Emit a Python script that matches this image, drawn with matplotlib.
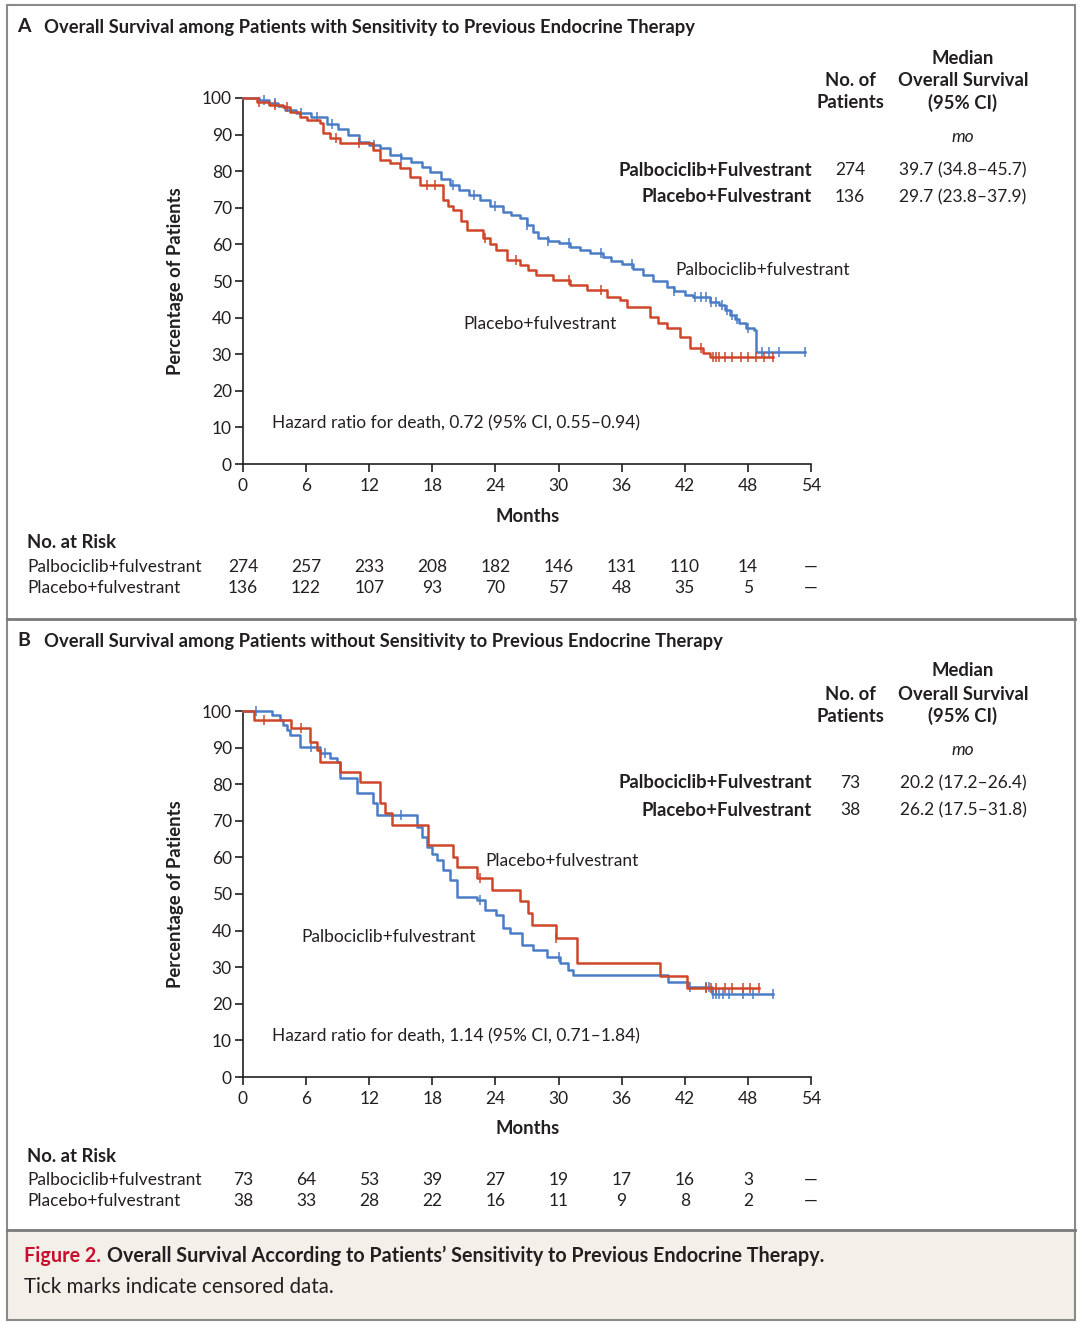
import matplotlib
matplotlib.use("Agg")
import matplotlib.pyplot as plt
from matplotlib.patches import Rectangle
from matplotlib.transforms import blended_transform_factory

plt.rcParams["font.family"] = ["Lato", "DejaVu Sans"]

W, H = 1080, 1323
BLUE = "#4a7dc6"
RED = "#cf472b"
TXT = "#231f20"

# ---- data ----
month_ticks = [0, 6, 12, 18, 24, 30, 36, 42, 48, 54]
pct_ticks = [0, 10, 20, 30, 40, 50, 60, 70, 80, 90, 100]

# panel A (sensitive)
a_palbo_t = [0, 1.5, 2.5, 3.3, 4, 5, 6.5, 8, 9, 10, 11, 12, 13, 14, 15, 16, 17, 17.8, 18.8,
             19.7, 20.5, 21.5, 22.5, 23.5, 24.7, 25.5, 26.3, 27, 27.6, 28, 29, 30, 31.1, 32,
             33, 34.2, 35, 36, 37.1, 38, 39, 40.3, 41, 42, 42.8, 44.4, 45.3, 45.8, 46.3, 46.8,
             47.2, 47.8, 48.6, 48.8, 53.4]
a_palbo_s = [100, 99.5, 98.6, 97.8, 96.7, 95.8, 94.8, 93, 91.5, 89.9, 88, 87.2, 86.3, 84.5,
             83.6, 82.5, 81.2, 79.8, 78, 76.2, 75, 73.5, 72.1, 70.5, 68.9, 68, 67.2, 65.3, 63.4,
             61.7, 61, 60.3, 59.3, 58.5, 57.6, 56.6, 55.5, 54.6, 53.2, 51.6, 50, 48.4, 47.3,
             46.2, 45.6, 44.3, 43.4, 42, 40.7, 39.5, 38.5, 37.2, 36.6, 30.6, 30.6]
a_palbo_cens = [2, 3, 5.5, 7, 8.5, 12.5, 15, 20, 22, 24, 27, 29, 31, 34, 37, 41, 43, 43.5, 44,
                44.5, 45, 45.5, 46, 46.5, 47, 48, 49.3, 50, 51, 53.4]
a_plac_t = [0, 1.3, 2.5, 3.8, 4.5, 5.4, 6.1, 7.3, 7.6, 8.3, 9.2, 12.4, 13, 14, 14.9, 15.9,
            16.8, 19, 19.5, 20, 20.7, 21.3, 22.8, 23.5, 24.1, 25.1, 26.3, 27.1, 27.9, 29.5,
            31.1, 32.7, 34.6, 35.8, 36.5, 38.7, 39.5, 40.3, 41.5, 42.5, 43.7, 44.4, 50.4]
a_plac_s = [100, 99, 98.1, 97.5, 96.2, 94.8, 94, 93.2, 90.4, 89.1, 87.7, 85.8, 83, 82.2, 80.9,
            78.4, 76.2, 72.1, 70.5, 69.4, 66.5, 63.9, 61.7, 60, 58.5, 55.7, 54.4, 53, 51.6,
            50.3, 48.9, 47.5, 45.6, 44.8, 42.9, 40.2, 38.5, 37.2, 34.7, 31.7, 30.3, 29.2, 29.2]
a_plac_cens = [1.5, 3, 4.2, 8.8, 11, 17.5, 18.3, 23, 26, 31, 34, 43.5, 44.7, 45, 45.3, 45.8,
               46.5, 47.3, 48, 48.8, 49.5, 50.4]

# panel B (not sensitive)
b_palbo_t = [0, 2.8, 3.5, 3.8, 4.2, 4.5, 5.4, 7.3, 8.3, 8.9, 9.2, 10.8, 12.4, 12.7, 16.5, 17,
             17.5, 18, 18.4, 19, 19.7, 20.3, 22.2, 23, 24.1, 24.7, 25.4, 26.5, 27.6, 28.9,
             30.1, 30.9, 31.4, 40.4, 42.3, 44.6, 50.4]
b_palbo_s = [100, 98.9, 97.5, 96.2, 94.8, 93.4, 90.2, 88.5, 87.2, 86.1, 81.7, 77.6, 74.9,
             71.6, 68.3, 65.5, 62.8, 61, 59.3, 56.6, 53.8, 49.2, 48.4, 45.6, 44.3, 40.7, 39.3,
             36.1, 34.7, 32.8, 31.1, 29.2, 27.9, 26, 24.6, 22.7, 22.7]
b_palbo_cens = [1.2, 6.5, 7.8, 15, 22.5, 30, 42.5, 44, 44.3, 44.7, 45, 45.3, 45.6, 46.2, 47.5,
                48.5, 50.4]
b_plac_t = [0, 1, 4.6, 6.4, 7, 7.3, 9.2, 11.1, 13, 13.5, 14.2, 17.6, 20, 20.3, 22.2, 23.7,
            26.3, 27.1, 27.5, 29.8, 31.8, 39.6, 42.2, 49.1]
b_plac_s = [100, 97.5, 95.4, 91.5, 89.3, 86.1, 83.3, 80.6, 74.9, 72.1, 68.9, 63.4, 60.1,
            57.4, 54.4, 51.1, 48.1, 44.8, 41.5, 38, 31.1, 27.6, 24.3, 24.3]
b_plac_cens = [2, 5.5, 22.5, 29.8, 44, 44.5, 45, 45.8, 46.5, 47.5, 48.2, 49.1]

a_risk_palbo = ["274", "257", "233", "208", "182", "146", "131", "110", "14", "—"]
a_risk_plac = ["136", "122", "107", "93", "70", "57", "48", "35", "5", "—"]
b_risk_palbo = ["73", "64", "53", "39", "27", "19", "17", "16", "3", "—"]
b_risk_plac = ["38", "33", "28", "22", "16", "11", "9", "8", "2", "—"]

panels = [
    dict(letter="A", title="Overall Survival among Patients with Sensitivity to Previous Endocrine Therapy",
         curves=[(a_palbo_t, a_palbo_s, a_palbo_cens, BLUE), (a_plac_t, a_plac_s, a_plac_cens, RED)],
         n=["274", "136"], med=["39.7 (34.8–45.7)", "29.7 (23.8–37.9)"],
         hr="Hazard ratio for death, 0.72 (95% CI, 0.55–0.94)",
         labels=[("Palbociclib+fulvestrant", 675, 270), ("Placebo+fulvestrant", 463, 324)],
         risk=[a_risk_palbo, a_risk_plac], top=0),
    dict(letter="B", title="Overall Survival among Patients without Sensitivity to Previous Endocrine Therapy",
         curves=[(b_palbo_t, b_palbo_s, b_palbo_cens, BLUE), (b_plac_t, b_plac_s, b_plac_cens, RED)],
         n=["73", "38"], med=["20.2 (17.2–26.4)", "26.2 (17.5–31.8)"],
         hr="Hazard ratio for death, 1.14 (95% CI, 0.71–1.84)",
         labels=[("Placebo+fulvestrant", 485, 861 - 613), ("Palbociclib+fulvestrant", 301, 937 - 613)],
         risk=[b_risk_palbo, b_risk_plac], top=613),
]

fig = plt.figure(figsize=(W / 100, H / 100), dpi=100)


def fx(x):
    return x / W


def fy(y):
    return 1 - y / H


def ftext(x, y, s, **kw):
    kw.setdefault("color", TXT)
    kw.setdefault("va", "center")
    return fig.text(fx(x), fy(y), s, **kw)


# frame, separators, caption background
fig.patches.append(Rectangle((fx(7), fy(1320)), fx(1068), fy(1230) - fy(1320),
                             transform=fig.transFigure, facecolor="#f3f0ea", edgecolor="none", zorder=0))
fig.patches.append(Rectangle((fx(7), fy(1320)), fx(1068), fy(5) - fy(1320),
                             transform=fig.transFigure, facecolor="none", edgecolor="#8a8a8a", lw=1.5))
for ysep in [619, 1230]:
    fig.add_artist(plt.Line2D([fx(7), fx(1075)], [fy(ysep), fy(ysep)], transform=fig.transFigure,
                              color="#7a7a7a", lw=2))

FS = 12.5
FB = 13.3  # bold text runs wider in the original
for p in panels:
    t = p["top"]
    # axes: x 243..811, y(100)=98+t, y(0)=464+t
    ax = fig.add_axes([fx(243), fy(464 + t), fx(811) - fx(243), fy(98 + t) - fy(464 + t)])
    ax.set_xlim(0, 54)
    ax.set_ylim(0, 100)
    for side in ["top", "right"]:
        ax.spines[side].set_visible(False)
    for side in ["left", "bottom"]:
        ax.spines[side].set_linewidth(1.2)
        ax.spines[side].set_color(TXT)
    ax.set_xticks(month_ticks)
    ax.set_yticks(pct_ticks)
    ax.tick_params(direction="out", length=6, width=1.2, colors=TXT, labelsize=FS, pad=2)
    ax.tick_params(axis="x", pad=4)
    ax.patch.set_visible(False)

    for tt, ss, cens, col in p["curves"]:
        ax.step(tt, ss, where="post", color=col, lw=1.8, clip_on=False, zorder=3)
        cy = []
        for c in cens:
            s = ss[0]
            for ti, si in zip(tt, ss):
                if ti <= c:
                    s = si
            cy.append(s)
        ax.plot(cens, cy, ls="none", marker="|", ms=7, mew=1.1, color=col, clip_on=False, zorder=3)

    ftext(176, 281 + t, "Percentage of Patients", rotation=90, ha="center", fontsize=FB, fontweight="bold")
    ftext(528, 516 + t, "Months", ha="center", fontsize=FB, fontweight="bold")
    ftext(272, 423 + t, p["hr"], ha="left", fontsize=FS)
    for lab, lx, ly in p["labels"]:
        ftext(lx, ly + t, lab, ha="left", fontsize=FS)

    # title
    ftext(17, 27 + t, p["letter"], ha="left", fontsize=14, fontweight="bold")
    ftext(44, 28 + t, p["title"], ha="left", fontsize=13.2, fontweight="bold")

    # median table
    ftext(850, 81 + t, "No. of", ha="center", fontsize=FB, fontweight="bold")
    ftext(850, 103 + t, "Patients", ha="center", fontsize=FB, fontweight="bold")
    ftext(963, 58 + t, "Median", ha="center", fontsize=FB, fontweight="bold")
    ftext(963, 81 + t, "Overall Survival", ha="center", fontsize=FB, fontweight="bold")
    ftext(963, 103 + t, "(95% CI)", ha="center", fontsize=FB, fontweight="bold")
    ftext(963, 137 + t, "mo", ha="center", fontsize=FS, style="italic")
    for i, grp in enumerate(["Palbociclib+Fulvestrant", "Placebo+Fulvestrant"]):
        yy = 170 + 27 * i + t
        ftext(812, yy, grp, ha="right", fontsize=FB, fontweight="bold")
        ftext(850, yy, p["n"][i], ha="center", fontsize=FS)
        ftext(963, yy, p["med"][i], ha="center", fontsize=FS)

    # number at risk
    ftext(27, 543 + t, "No. at Risk", ha="left", fontsize=FB, fontweight="bold")
    trans = blended_transform_factory(ax.transData, fig.transFigure)
    for i, (grp, row) in enumerate(zip(["Palbociclib+fulvestrant", "Placebo+fulvestrant"], p["risk"])):
        yy = 567 + 21 * i + t
        ftext(27, yy, grp, ha="left", fontsize=FS)
        for m, v in zip(month_ticks, row):
            fig.text(m, fy(yy), v, transform=trans, ha="center", va="center", fontsize=FS, color=TXT)

# caption
fig.canvas.draw()
r = fig.canvas.get_renderer()
fig_lbl = ftext(24, 1256, "Figure 2.", ha="left", fontsize=14.2, color="#c8102e", fontweight="bold")
bb = fig_lbl.get_window_extent(renderer=r)
ftext(bb.x1 + 6, 1256, "Overall Survival According to Patients’ Sensitivity to Previous Endocrine Therapy.",
      ha="left", fontsize=14.2, fontweight="bold")
ftext(24, 1287, "Tick marks indicate censored data.", ha="left", fontsize=14.8)

fig.savefig("out.png", dpi=100)
